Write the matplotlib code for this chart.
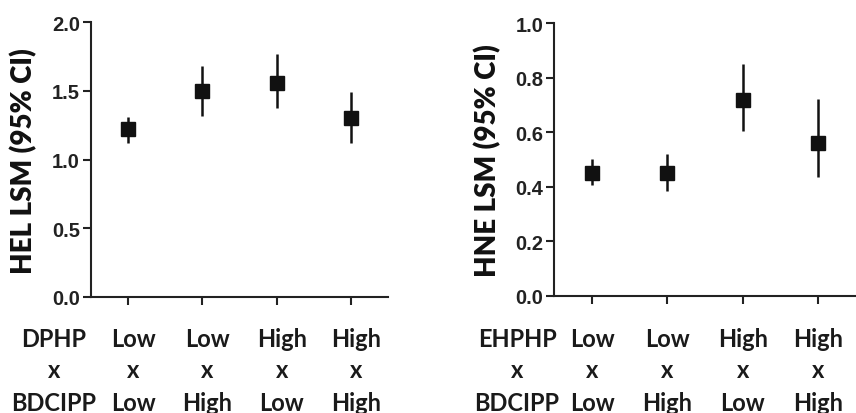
import matplotlib
matplotlib.use("Agg")
import matplotlib.pyplot as plt
import matplotlib.transforms as mtransforms

# ---- data ----
categories = [1, 2, 3, 4]
col_top = ["Low", "Low", "High", "High"]
col_mid = ["x", "x", "x", "x"]
col_bot = ["Low", "High", "Low", "High"]

hel_lsm = [1.22, 1.50, 1.56, 1.30]
hel_lo = [1.12, 1.32, 1.375, 1.12]
hel_hi = [1.31, 1.68, 1.77, 1.49]

hne_lsm = [0.451, 0.451, 0.719, 0.56]
hne_lo = [0.406, 0.385, 0.605, 0.436]
hne_hi = [0.501, 0.521, 0.851, 0.722]

left_rows = ["DPHP", "x", "BDCIPP"]
right_rows = ["EHPHP", "x", "BDCIPP"]
left_yticks = [0.0, 0.5, 1.0, 1.5, 2.0]
right_yticks = [0.0, 0.2, 0.4, 0.6, 0.8, 1.0]

plt.rcParams["font.family"] = ["Liberation Sans", "DejaVu Sans"]
plt.rcParams["font.weight"] = "bold"

W, H = 856, 414
fig = plt.figure(figsize=(W / 100, H / 100), dpi=100)

lab_font = dict(family="Lato", weight="bold", size=17)
ylab_font = dict(family="Lato", weight="heavy", size=20)

def panel(rect, lsm, lo, hi, yticks, ylabel, rows, row_x_px, ylab_x_px, col_off):
    ax = fig.add_axes(rect)
    yerr = [[m - l for m, l in zip(lsm, lo)], [h - m for m, h in zip(lsm, hi)]]
    ax.errorbar(categories, lsm, yerr=yerr, fmt="s", color="#111111",
                markersize=9.5, elinewidth=1.8, capsize=0)
    ax.set_xlim(0.5, 4.5)
    ax.set_ylim(yticks[0], yticks[-1])
    for s in ["top", "right"]:
        ax.spines[s].set_visible(False)
    for s in ["left", "bottom"]:
        ax.spines[s].set_linewidth(1.5)
        ax.spines[s].set_color("#222222")
    ax.tick_params(axis="both", length=6, width=1.5, color="#222222", pad=2,
                   labelsize=14.5)
    ax.set_yticks(yticks)
    ax.set_yticklabels([f"{t:.1f}" for t in yticks], fontsize=14.5,
                       fontweight="bold", family="Liberation Sans",
                       color="#222222")
    ax.set_xticks(categories)
    ax.set_xticklabels([])
    ax.spines["bottom"].set_clip_on(False)
    # y label
    fig.text(ylab_x_px / W, 1 - 161 / H, ylabel, rotation=90, ha="center",
             va="center", color="#111111", **ylab_font)
    # category labels
    trans = mtransforms.blended_transform_factory(ax.transData, fig.transFigure)
    baselines = [1 - 347 / H, 1 - 378 / H, 1 - 411 / H]
    for c, t, m, b in zip(categories, col_top, col_mid, col_bot):
        for txt, yb in zip([t, m, b], baselines):
            ax.text(c + col_off, yb, txt, transform=trans, ha="center",
                    va="baseline", clip_on=False, color="#1a1a1a", **lab_font)
    for txt, yb in zip(rows, baselines):
        fig.text(row_x_px / W, yb, txt, ha="center", va="baseline",
                 color="#1a1a1a", **lab_font)
    return ax

panel([91 / W, 1 - 297.7 / H, (388 - 91) / W, (297.7 - 23.3) / H],
      hel_lsm, hel_lo, hel_hi, left_yticks, "HEL LSM (95% CI)",
      left_rows, 54, 24, 0.07)
panel([554.3 / W, 1 - 296.7 / H, (856 - 554.3) / W, (296.7 - 24) / H],
      hne_lsm, hne_lo, hne_hi, right_yticks, "HNE LSM (95% CI)",
      right_rows, 517, 488, 0.0)

fig.savefig("out.png", dpi=100)
